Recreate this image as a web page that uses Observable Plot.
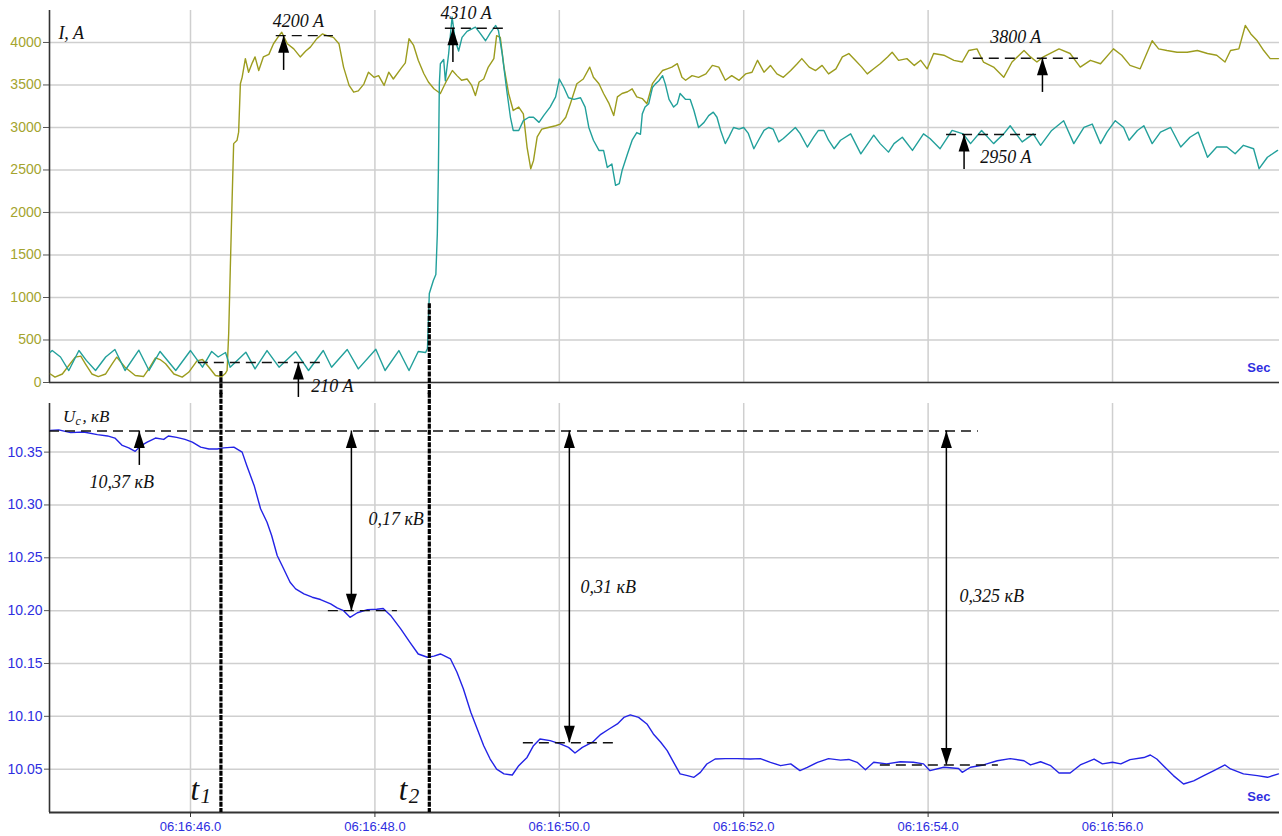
<!DOCTYPE html>
<html><head><meta charset="utf-8">
<script src="https://cdn.jsdelivr.net/npm/d3@7"></script>
<script src="https://cdn.jsdelivr.net/npm/@observablehq/plot@0.6"></script>
<style>
body{margin:0;background:#fff;}
#chart svg{display:block;}
</style></head><body><div id="chart"></div>
<script>
// ---- time axis: seconds after 06:16:00 ----
const xDomain = [44.4707, 57.811];
const xTicks = [46, 48, 50, 52, 54, 56];

// ---- current I1 (olive) ----
const olT = [44.48,44.53,44.61,44.68,44.75,44.81,44.86,44.93,45.00,45.08,45.15,45.20,45.29,45.40,45.49,45.56,45.62,45.67,45.73,45.82,45.91,45.98,46.07,46.13,46.20,46.27,46.34,46.38,46.397,46.414,46.432,46.451,46.468,46.505,46.522,46.541,46.56,46.595,46.63,46.67,46.70,46.74,46.79,46.85,46.90,46.96,46.99,47.05,47.12,47.19,47.25,47.30,47.37,47.43,47.48,47.55,47.61,47.66,47.72,47.77,47.82,47.88,47.93,47.99,48.04,48.10,48.15,48.20,48.28,48.33,48.37,48.42,48.47,48.53,48.58,48.64,48.71,48.78,48.84,48.89,48.94,49.00,49.05,49.09,49.13,49.18,49.23,49.29,49.32,49.36,49.40,49.45,49.50,49.56,49.61,49.65,49.69,49.72,49.76,49.81,49.88,49.96,50.01,50.07,50.12,50.19,50.26,50.33,50.37,50.43,50.48,50.54,50.59,50.63,50.68,50.74,50.79,50.84,50.90,50.95,51.01,51.06,51.12,51.17,51.22,51.28,51.33,51.37,51.44,51.51,51.59,51.66,51.73,51.80,51.87,51.95,52.02,52.09,52.15,52.22,52.29,52.36,52.43,52.51,52.58,52.63,52.71,52.78,52.85,52.92,53.00,53.07,53.14,53.21,53.28,53.34,53.41,53.48,53.56,53.61,53.68,53.77,53.85,53.92,53.99,54.06,54.17,54.28,54.37,54.44,54.53,54.60,54.71,54.82,54.91,55.04,55.11,55.18,55.25,55.42,55.54,55.65,55.76,55.87,56.01,56.10,56.19,56.30,56.43,56.50,56.59,56.70,56.81,56.92,57.03,57.13,57.22,57.28,57.37,57.44,57.50,57.57,57.64,57.71,57.80];
const olV = [100,63,100,200,298,310,220,100,70,100,220,298,180,82,70,180,290,270,220,100,63,120,255,270,180,82,70,110,141,573,1356,2140,2810,2850,2945,3515,3590,3810,3650,3760,3830,3670,3830,3860,3985,4080,4120,3985,3925,3830,3900,3945,4045,4100,4080,4060,3985,3710,3495,3415,3430,3510,3650,3590,3610,3495,3650,3570,3690,3760,4045,3965,3790,3635,3535,3455,3400,3555,3670,3610,3555,3570,3495,3375,3535,3570,3710,3810,4080,4060,3710,3400,3200,3240,3160,2770,2515,2610,2890,2980,3000,3020,3040,3120,3280,3515,3570,3710,3590,3515,3400,3280,3140,3360,3400,3420,3455,3360,3340,3280,3515,3590,3670,3690,3710,3750,3590,3555,3610,3590,3630,3730,3710,3555,3610,3555,3630,3650,3790,3650,3730,3630,3590,3670,3750,3810,3710,3670,3730,3630,3690,3830,3870,3790,3710,3630,3690,3750,3830,3885,3790,3810,3730,3790,3690,3870,3850,3790,3770,3905,3925,3770,3710,3590,3770,3905,3830,3770,3830,3925,3870,3710,3790,3750,3925,3850,3730,3690,4020,3925,3905,3885,3885,3905,3870,3850,3770,3905,3925,4200,4100,4020,3905,3810,3810];

// ---- current I2 (teal) ----
const tlT = [44.48,44.50,44.59,44.68,44.79,44.87,44.97,45.08,45.18,45.29,45.44,45.55,45.67,45.84,46.00,46.13,46.23,46.30,46.38,46.43,46.60,46.70,46.83,46.96,47.14,47.28,47.44,47.53,47.70,47.82,48.01,48.11,48.26,48.37,48.47,48.55,48.57,48.59,48.634,48.661,48.677,48.688,48.699,48.71,48.746,48.764,48.80,48.837,48.872,48.908,48.945,48.999,49.09,49.14,49.20,49.25,49.31,49.34,49.38,49.43,49.47,49.50,49.56,49.61,49.67,49.72,49.78,49.83,49.90,49.96,50.00,50.05,50.10,50.16,50.23,50.28,50.32,50.37,50.43,50.48,50.52,50.57,50.61,50.65,50.68,50.74,50.79,50.84,50.88,50.90,50.93,50.97,51.01,51.04,51.08,51.12,51.15,51.19,51.24,51.28,51.31,51.37,51.42,51.46,51.51,51.57,51.62,51.67,51.71,51.75,51.80,51.84,51.89,51.95,52.00,52.05,52.11,52.16,52.22,52.27,52.32,52.38,52.43,52.49,52.56,52.61,52.69,52.76,52.81,52.87,52.92,52.98,53.05,53.16,53.27,53.41,53.48,53.57,53.63,53.72,53.83,53.95,54.02,54.13,54.26,54.38,54.46,54.58,54.71,54.82,54.89,55.02,55.14,55.22,55.34,55.47,55.58,55.69,55.78,55.87,55.94,56.03,56.12,56.18,56.27,56.34,56.43,56.52,56.63,56.74,56.84,56.93,57.03,57.13,57.24,57.33,57.42,57.53,57.59,57.68,57.79];
const tlV = [357,376,300,141,376,260,141,300,388,141,380,141,365,141,376,180,365,300,353,180,357,160,376,180,365,141,376,180,388,160,392,141,376,141,365,353,400,1047,1200,1270,1750,2450,3520,3750,3800,3550,3870,4300,4020,3900,4060,4130,4180,4110,4020,4110,4200,4140,3870,3435,3120,2965,2965,3080,3120,3120,3060,3140,3240,3360,3570,3470,3350,3330,3350,3240,3000,2850,2730,2730,2530,2570,2320,2340,2490,2690,2850,2940,2920,3160,3240,3280,3470,3510,3550,3610,3510,3330,3240,3280,3400,3330,3330,3200,3000,3060,3140,3180,3120,2965,2810,2890,3000,2980,3000,2930,2750,2850,2965,3000,2980,2830,2870,2930,3000,2930,2770,2890,2965,2965,2850,2750,2850,2925,2690,2910,2810,2710,2810,2885,2730,2925,2870,2750,2965,2925,2810,2965,2810,2925,3020,2830,2925,2790,2965,3080,2810,3000,3040,2810,2945,3080,3000,2850,2965,3020,2810,2945,3000,2770,2885,2945,2650,2770,2770,2690,2790,2750,2515,2650,2730];

// ---- voltage Uc (blue) ----
const uT = [44.48,44.57,44.70,44.84,44.99,45.10,45.18,45.26,45.33,45.40,45.46,45.53,45.62,45.71,45.76,45.85,45.94,46.02,46.11,46.20,46.29,46.36,46.47,46.56,46.61,46.69,46.76,46.83,46.88,46.94,47.01,47.08,47.14,47.23,47.32,47.41,47.52,47.59,47.66,47.73,47.81,47.92,48.02,48.09,48.17,48.28,48.38,48.47,48.57,48.64,48.71,48.82,48.89,48.96,49.04,49.11,49.18,49.25,49.32,49.40,49.49,49.56,49.65,49.72,49.79,49.90,50.01,50.10,50.17,50.25,50.36,50.45,50.54,50.63,50.70,50.77,50.86,50.95,51.02,51.10,51.17,51.24,51.31,51.39,51.46,51.53,51.60,51.69,51.80,51.93,52.07,52.18,52.29,52.40,52.51,52.61,52.69,52.80,52.92,53.05,53.14,53.23,53.32,53.41,53.55,53.70,53.84,53.95,54.02,54.17,54.33,54.37,54.46,54.60,54.75,54.89,55.04,55.11,55.22,55.33,55.42,55.54,55.65,55.80,55.89,56.00,56.09,56.19,56.34,56.41,56.48,56.56,56.66,56.77,56.88,56.99,57.10,57.22,57.28,57.42,57.57,57.68,57.80];
const uV = [10.3706,10.371,10.3684,10.369,10.3665,10.3653,10.3633,10.3563,10.354,10.3507,10.356,10.3595,10.3633,10.362,10.3653,10.364,10.362,10.3595,10.3547,10.353,10.353,10.354,10.3547,10.35,10.3374,10.3185,10.2964,10.2837,10.2711,10.2522,10.2396,10.2269,10.2206,10.2159,10.2127,10.2105,10.2064,10.2026,10.200,10.1937,10.198,10.201,10.2013,10.202,10.1955,10.1828,10.170,10.159,10.1559,10.157,10.159,10.1543,10.1417,10.1259,10.1038,10.088,10.0722,10.0596,10.05,10.0455,10.0445,10.0533,10.0611,10.0722,10.0786,10.077,10.074,10.0706,10.0653,10.0706,10.0755,10.083,10.088,10.0928,10.099,10.1013,10.099,10.0928,10.0833,10.0755,10.0676,10.0564,10.0455,10.0439,10.0423,10.047,10.0549,10.0596,10.06,10.06,10.0596,10.06,10.0565,10.0533,10.055,10.0486,10.0518,10.0565,10.06,10.0586,10.0592,10.0565,10.0495,10.0565,10.055,10.057,10.0565,10.055,10.0486,10.0518,10.0507,10.047,10.0518,10.054,10.058,10.06,10.058,10.054,10.057,10.0533,10.0464,10.0464,10.054,10.0596,10.055,10.0565,10.055,10.059,10.061,10.0634,10.0596,10.0525,10.0439,10.036,10.039,10.0439,10.0486,10.054,10.0502,10.0455,10.0439,10.0423,10.0455];

// ---- axes ----
const iDomain = [0, 4376];
const iTicks = [0, 500, 1000, 1500, 2000, 2500, 3000, 3500, 4000];
const uDomain = [10.009, 10.396];
const uTicks = [10.05, 10.10, 10.15, 10.20, 10.25, 10.30, 10.35];

// ---- annotations: current panel ----
const iLevels = [
  {x1: 46.93, x2: 47.55, y: 4080},
  {x1: 46.085, x2: 47.43, y: 235},
  {x1: 48.764, x2: 49.393, y: 4168},
  {x1: 54.49, x2: 55.63, y: 3815},
  {x1: 54.20, x2: 55.22, y: 2918}
];
const iArrows = [
  {x: 47.01, tail: 3671, tip: 4080},
  {x: 47.17, tail: -176, tip: 235},
  {x: 48.846, tail: 3765, tip: 4168},
  {x: 55.24, tail: 3412, tip: 3815},
  {x: 54.39, tail: 2506, tip: 2918}
];
const iLabelsMid = [
  {x: 47.17, y: 4177, text: "4200 A"},
  {x: 48.99, y: 4271, text: "4310 A"},
  {x: 54.95, y: 3988, text: "3800 A"}
];
const iLabelsStart = [
  {x: 47.31, y: -106, text: "210 A"},
  {x: 54.566, y: 2577, text: "2950 A"},
  {x: 44.567, y: 4035, text: "I, A"}
];
// ---- annotations: voltage panel ----
const uLevels = [
  {x1: 44.4707, x2: 54.545, y: 10.37},
  {x1: 47.495, x2: 48.244, y: 10.20},
  {x1: 49.61, x2: 50.608, y: 10.075},
  {x1: 53.482, x2: 54.762, y: 10.054}
];
const uArrowUp = [{x: 45.445, tail: 10.3374, tip: 10.37}];
const uSpans = [
  {x: 47.745, top: 10.37, bot: 10.20},
  {x: 50.109, top: 10.37, bot: 10.075},
  {x: 54.198, top: 10.37, bot: 10.054}
];
const uLabels = [
  {x: 45.255, y: 10.3156, text: "10,37 кВ", mid: true},
  {x: 47.93, y: 10.2812, text: "0,17 кВ"},
  {x: 50.23, y: 10.2169, text: "0,31 кВ"},
  {x: 54.34, y: 10.208, text: "0,325 кВ"}
];
const uTitle = [{x: 44.618, y: 10.3781}];
// switching instants t1, t2
const tMarks = [
  {t: 46.33, iTop: 130, labelX: 46.00, sub: "1"},
  {t: 48.59, iTop: 926, labelX: 48.258, sub: "2"}
];

// ---- styling ----
const OLIVE = "#9c9c1e", TEAL = "#22a09b", BLUE = "#2323e6";
const AX_BLUE = "#2e2ee0", AX_OLIVE = "#a4a42e";
const GRID = "#cfcfcf";
const SERIF = "'Liberation Serif', 'Times New Roman', serif";
const SANS = "'Liberation Sans', Arial, sans-serif";

const headUp = {draw(c) { c.moveTo(0, 0); c.lineTo(5.5, 17); c.lineTo(-5.5, 17); c.closePath(); }};
const headDown = {draw(c) { c.moveTo(0, 0); c.lineTo(5.5, -17); c.lineTo(-5.5, -17); c.closePath(); }};

const olData = olT.map((t, i) => ({t, v: olV[i]}));
const tlData = tlT.map((t, i) => ({t, v: tlV[i]}));
const uData = uT.map((t, i) => ({t, v: uV[i]}));

const txt = {fontFamily: SERIF, fontStyle: "italic", fontSize: 18, fill: "#111", lineAnchor: "bottom"};

const topPlot = Plot.plot({
  width: 1282, height: 393,
  marginLeft: 49, marginRight: 3, marginTop: 10, marginBottom: 11,
  style: {background: "transparent", overflow: "visible"},
  x: {domain: xDomain, axis: null},
  y: {domain: iDomain},
  marks: [
    Plot.gridX({ticks: xTicks, stroke: GRID, strokeOpacity: 1, strokeWidth: 1.5}),
    Plot.gridY({ticks: iTicks, stroke: GRID, strokeOpacity: 1, strokeWidth: 1.5}),
    Plot.axisY({ticks: iTicks, tickFormat: d => String(d), tickSize: 6, tickPadding: 2,
      fill: AX_OLIVE, stroke: "#555", fontSize: 14, fontFamily: SANS, label: null}),
    Plot.ruleX([xDomain[0]], {stroke: "#333", strokeWidth: 1.6}),
    Plot.ruleY([0], {stroke: "#333", strokeWidth: 1.6}),
    Plot.line(olData, {x: "t", y: "v", stroke: OLIVE, strokeWidth: 1.4}),
    Plot.line(tlData, {x: "t", y: "v", stroke: TEAL, strokeWidth: 1.4}),
    Plot.ruleX(tMarks, {x: "t", y1: "iTop", y2: -140, stroke: "#000", strokeWidth: 3.2, strokeDasharray: "5,1.2"}),
    Plot.ruleY(iLevels, {y: "y", x1: "x1", x2: "x2", stroke: "#111", strokeWidth: 1.4, strokeDasharray: "10,6"}),
    Plot.ruleX(iArrows, {x: "x", y1: "tail", y2: "tip", stroke: "#000", strokeWidth: 1.5}),
    Plot.dot(iArrows, {x: "x", y: "tip", symbol: headUp, fill: "#000", stroke: "none"}),
    Plot.text(iLabelsMid, {x: "x", y: "y", text: "text", textAnchor: "middle", ...txt}),
    Plot.text(iLabelsStart, {x: "x", y: "y", text: "text", textAnchor: "start", ...txt}),
    Plot.text(["Sec"], {x: 57.712, y: 118, text: d => d, textAnchor: "end", lineAnchor: "bottom",
      fill: AX_BLUE, fontSize: 13, fontWeight: "bold", fontFamily: SANS})
  ]
});

const bottomPlot = Plot.plot({
  width: 1282, height: 443,
  marginLeft: 49, marginRight: 3, marginTop: 10, marginBottom: 24,
  style: {background: "transparent", overflow: "visible"},
  x: {domain: xDomain},
  y: {domain: uDomain},
  marks: [
    Plot.gridX({ticks: xTicks, stroke: GRID, strokeOpacity: 1, strokeWidth: 1.5}),
    Plot.gridY({ticks: uTicks, stroke: GRID, strokeOpacity: 1, strokeWidth: 1.5}),
    Plot.axisY({ticks: uTicks, tickFormat: d => d.toFixed(2), tickSize: 5, tickPadding: 2,
      fill: AX_BLUE, stroke: "#555", fontSize: 14, fontFamily: SANS, label: null}),
    Plot.axisX({ticks: xTicks, tickFormat: d => "06:16:" + d.toFixed(1), tickSize: 5, tickPadding: 4,
      fill: AX_BLUE, stroke: "#333", fontSize: 13, fontFamily: SANS, label: null}),
    Plot.ruleX([xDomain[0]], {stroke: "#333", strokeWidth: 1.6}),
    Plot.ruleY([uDomain[0]], {stroke: "#333", strokeWidth: 1.8}),
    Plot.line(uData, {x: "t", y: "v", stroke: BLUE, strokeWidth: 1.4}),
    Plot.ruleX(tMarks, {x: "t", y1: 10.4058, y2: uDomain[0], stroke: "#000", strokeWidth: 3.2, strokeDasharray: "5,1.2"}),
    Plot.ruleY(uLevels, {y: "y", x1: "x1", x2: "x2", stroke: "#111", strokeWidth: 1.4, strokeDasharray: "10,6"}),
    Plot.ruleX(uArrowUp, {x: "x", y1: "tail", y2: "tip", stroke: "#000", strokeWidth: 1.5}),
    Plot.dot(uArrowUp, {x: "x", y: "tip", symbol: headUp, fill: "#000", stroke: "none"}),
    Plot.ruleX(uSpans, {x: "x", y1: "top", y2: "bot", stroke: "#000", strokeWidth: 1.5}),
    Plot.dot(uSpans, {x: "x", y: "top", symbol: headUp, fill: "#000", stroke: "none"}),
    Plot.dot(uSpans, {x: "x", y: "bot", symbol: headDown, fill: "#000", stroke: "none"}),
    Plot.text(uLabels.filter(d => d.mid), {x: "x", y: "y", text: "text", textAnchor: "middle", ...txt}),
    Plot.text(uLabels.filter(d => !d.mid), {x: "x", y: "y", text: "text", textAnchor: "start", ...txt}),
    Plot.text(uTitle, {x: "x", y: "y", text: () => "U", textAnchor: "start", ...txt, fontSize: 17}),
    Plot.text(uTitle, {x: "x", y: "y", text: () => "c", textAnchor: "start", dx: 12.5, dy: 3, ...txt, fontSize: 12}),
    Plot.text(uTitle, {x: "x", y: "y", text: () => ", кВ", textAnchor: "start", dx: 19.5, ...txt, fontSize: 17}),
    Plot.text(tMarks, {x: "labelX", y: 10.0209, text: () => "t", textAnchor: "start", ...txt, fontSize: 31}),
    Plot.text(tMarks, {x: "labelX", y: 10.0209, text: "sub", textAnchor: "start", dx: 10, dy: 3, ...txt, fontSize: 21}),
    Plot.text(["Sec"], {x: 57.712, y: 10.02, text: d => d, textAnchor: "end", lineAnchor: "bottom",
      fill: AX_BLUE, fontSize: 13, fontWeight: "bold", fontFamily: SANS})
  ]
});

document.getElementById("chart").append(topPlot, bottomPlot);
</script>
</body></html>
